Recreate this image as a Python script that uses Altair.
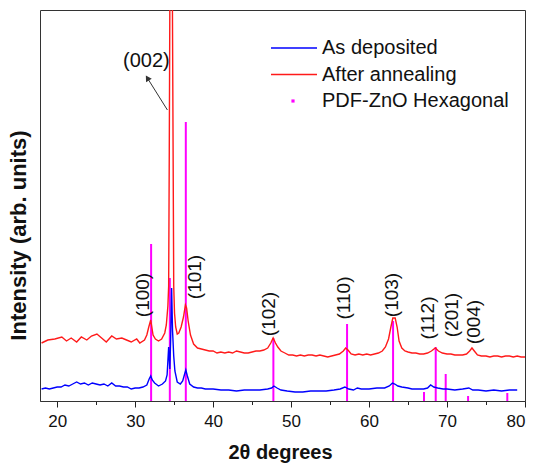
import altair as alt
import pandas as pd

# ---------------- data ----------------
red_x = [18.0, 18.8, 19.7, 20.6, 21.2, 21.8, 22.5, 23.1, 23.8, 24.4, 25.1, 25.7, 26.3, 27.0,
         27.6, 28.3, 28.9, 29.5, 30.2, 30.6, 31.2, 31.5, 31.75, 32.0, 32.3, 32.6, 33.0, 33.4,
         33.8, 34.0, 34.2, 34.3, 34.38, 34.6, 34.87, 34.95, 35.05, 35.2, 35.4, 35.6, 35.9,
         36.2, 36.45, 36.6, 36.8, 37.1, 37.5, 38.0, 38.5, 39.0, 39.5, 40.0, 40.5, 41.0, 41.5,
         42.0, 42.5, 43.0, 43.5, 44.0, 44.5, 45.0, 45.5, 46.0, 46.5, 47.0, 47.4, 47.7, 48.0,
         48.3, 48.7, 49.2, 49.7, 50.2, 50.7, 51.2, 51.7, 52.2, 52.7, 53.2, 53.7, 54.2, 54.7,
         55.2, 55.7, 56.2, 56.7, 57.0, 57.3, 57.7, 58.2, 58.7, 59.2, 59.7, 60.2, 60.7, 61.2,
         61.7, 62.1, 62.5, 62.8, 63.05, 63.35, 63.6, 63.85, 64.2, 64.6, 65.0, 65.5, 66.0,
         66.5, 67.0, 67.5, 68.0, 68.5, 68.9, 69.4, 70.0, 70.5, 71.0, 71.5, 72.0, 72.5, 72.9,
         73.2, 73.5, 73.9, 74.4, 75.0, 75.5, 76.0, 76.5, 77.0, 77.5, 78.0, 78.5, 79.0, 79.5, 80.0]
red_y = [58, 61, 62, 64, 60, 63, 59, 64, 61, 65, 67, 63, 59, 65,
         62, 63, 61, 59, 62, 58, 61, 66, 74, 81, 66, 62, 60, 62,
         68, 76, 95, 115, 250, 700, 250, 115, 88, 74, 67, 68, 74,
         84, 96, 93, 80, 66, 57, 53, 52, 51, 50, 50, 48, 49, 48,
         49, 48, 50, 49, 48, 48, 49, 50, 50, 51, 53, 58, 63, 58,
         54, 50, 48, 46, 46, 45, 46, 45, 46, 46, 45, 46, 45, 44,
         45, 46, 47, 50, 53, 51, 47, 46, 47, 46, 47, 46, 47, 48,
         50, 54, 62, 74, 83, 83, 74, 60, 53, 50, 49, 48, 48,
         47, 47, 48, 50, 53, 50, 48, 47, 47, 46, 46, 46, 47, 50,
         53, 50, 46, 45, 45, 44, 45, 45, 44, 45, 45, 44, 45, 44, 44]

blue_x = [18.0, 18.5, 19.0, 19.5, 20.0, 20.5, 21.0, 21.5, 22.0, 22.5, 23.0, 23.5, 24.0, 24.5,
          25.0, 25.5, 26.0, 26.5, 27.0, 27.5, 28.0, 28.5, 29.0, 29.5, 30.0, 30.5, 31.0, 31.5,
          31.8, 32.0, 32.2, 32.5, 33.0, 33.5, 33.9, 34.1, 34.3, 34.45, 34.55, 34.68, 34.8,
          34.95, 35.1, 35.4, 35.8, 36.1, 36.35, 36.5, 36.7, 37.0, 37.5, 38.0, 38.5, 39.0, 39.5,
          40.0, 41.0, 42.0, 43.0, 44.0, 45.0, 46.0, 47.0, 47.5, 47.8, 48.2, 48.7, 49.5, 50.5,
          51.5, 52.5, 53.5, 54.5, 55.5, 56.3, 56.9, 57.4, 58.0, 58.5, 59.0, 60.0, 61.0, 62.0,
          62.6, 63.0, 63.3, 63.7, 64.2, 65.0, 65.5, 66.0, 67.0, 67.5, 67.9, 68.3, 68.8, 69.5,
          70.0, 71.0, 72.0, 72.8, 73.3, 74.0, 75.0, 76.0, 77.0, 78.0, 79.0]
blue_y = [12, 13, 12, 13, 14, 14, 16, 15, 17, 19, 17, 18, 16, 18,
          17, 16, 17, 15, 18, 15, 15, 14, 14, 12, 13, 13, 14, 16,
          22, 25, 21, 18, 15, 17, 20, 26, 54, 32, 60, 113, 70,
          45, 30, 19, 17, 20, 27, 31, 25, 17, 14, 13, 13, 12, 12,
          12, 11, 11, 10, 11, 11, 11, 12, 13, 15, 13, 11, 10, 9,
          9, 10, 10, 10, 11, 12, 14, 12, 11, 13, 12, 12, 13, 13,
          15, 18, 17, 15, 14, 13, 12, 12, 12, 13, 16, 14, 13, 12,
          12, 11, 12, 13, 11, 11, 10, 11, 10, 11, 11]

pdf_x = [32.05, 34.45, 36.5, 47.73, 57.18, 63.08, 67.05, 68.55, 69.83, 72.7, 77.73]
pdf_h = [157, 123, 279, 63, 77, 80, 9, 54, 27, 5, 8]

peak_labels = ["(100)", "(101)", "(102)", "(110)", "(103)", "(112)", "(201)", "(004)"]
peak_label_x = [31.05, 37.65, 47.2, 56.85, 62.9, 67.5, 70.6, 73.5]
peak_label_y = [106, 124, 87, 103, 106, 83, 86, 79]

main_label = ["(002)"]
main_label_x = [31.44]
main_label_y = [340]
arrow_x = [34.14]
arrow_y = [291]
arrow_x2 = [31.57]
arrow_y2 = [323]

series_names = ["As deposited", "After annealing", "PDF-ZnO Hexagonal"]
series_colors = ["#0000ff", "#ff1a1a", "#ff00ff"]
legend_rank = [0, 1, 2]

x_ticks = [20, 25, 30, 35, 40, 45, 50, 55, 60, 65, 70, 75, 80]

# ---------------- tables ----------------
red_df = pd.DataFrame({"t": red_x, "i": red_y, "s": series_names[1]})
blue_df = pd.DataFrame({"t": blue_x, "i": blue_y, "s": series_names[0]})
pdf_df = pd.DataFrame({"t": pdf_x, "i": pdf_h, "z": [0] * len(pdf_x), "s": series_names[2]})
lab_df = pd.DataFrame({"t": peak_label_x, "i": peak_label_y, "lab": peak_labels})
main_df = pd.DataFrame({"t": main_label_x, "i": main_label_y, "lab": main_label})
arrow_df = pd.DataFrame({"t": arrow_x, "i": arrow_y, "t2": arrow_x2, "i2": arrow_y2})
legend_df = pd.DataFrame({"s": series_names, "k": legend_rank})

FONT = "Liberation Sans"

xscale = alt.Scale(domain=[17.8, 80], nice=False, zero=False)
yscale = alt.Scale(domain=[0, 391], nice=False, zero=False)
cscale = alt.Scale(domain=series_names, range=series_colors)

x_axis = alt.Axis(
    values=x_ticks,
    labelExpr="datum.value % 10 == 0 ? datum.label : ''",
    tickSize=alt.condition("datum.value % 10 == 0", alt.value(6), alt.value(3.5)),
    tickColor="#222", domainColor="#333", tickWidth=1,
    labelFont=FONT, labelFontSize=17, labelColor="#111", labelPadding=6,
    grid=False,
    title="2θ  degrees", titleFont=FONT, titleFontSize=20, titleFontWeight="bold",
    titleColor="#111", titleX=240, titleY=51, titleBaseline="middle", titleAlign="center",
)
y_axis = alt.Axis(
    labels=False, ticks=False, domain=False, grid=False,
    title="Intensity (arb. units)", titleFont=FONT, titleFontSize=22, titleFontWeight="bold",
    titleColor="#111", titleAngle=270, titleX=-22, titleY=225,
    titleAlign="center", titleBaseline="middle",
)

X = alt.X("t:Q", scale=xscale, axis=x_axis)
Xn = alt.X("t:Q", scale=xscale)
Y = alt.Y("i:Q", scale=yscale, axis=y_axis)
Yn = alt.Y("i:Q", scale=yscale)
C = alt.Color("s:N", scale=cscale, legend=None)

pdf_layer = alt.Chart(pdf_df).mark_rule(strokeWidth=2, clip=True).encode(
    x=X, y=Y, y2="z:Q", color=C)
blue_layer = alt.Chart(blue_df).mark_line(strokeWidth=1.4, clip=True).encode(
    x=Xn, y=Yn, color=C, order="t:Q")
red_layer = alt.Chart(red_df).mark_line(strokeWidth=1.4, clip=True).encode(
    x=Xn, y=Yn, color=C, order="t:Q")
labels_layer = alt.Chart(lab_df).mark_text(
    angle=270, font=FONT, fontSize=19, color="#111", align="center", baseline="middle"
).encode(x=Xn, y=Yn, text="lab:N")
main_label_layer = alt.Chart(main_df).mark_text(
    font=FONT, fontSize=20, color="#111", align="center", baseline="middle"
).encode(x=Xn, y=Yn, text="lab:N")
arrow_line = alt.Chart(arrow_df).mark_rule(strokeWidth=1, color="#333").encode(
    x=Xn, y=Yn, x2="t2:Q", y2="i2:Q")
arrow_head = alt.Chart(arrow_df).mark_point(
    shape="triangle-up", filled=True, color="#333", size=45, angle=328, opacity=1
).encode(x=alt.X("t2:Q", scale=xscale), y=alt.Y("i2:Q", scale=yscale))

main = alt.layer(pdf_layer, blue_layer, red_layer, labels_layer, main_label_layer,
                 arrow_line, arrow_head)

# legend drawn as marks, rows placed through a linear scale (pixel range)
LY = alt.Y("k:Q", scale=alt.Scale(domain=[0, 2], range=[38, 91], nice=False, zero=False),
           axis=None)
leg_lines = alt.Chart(legend_df).transform_filter(
    alt.datum.k < 2
).mark_rule(strokeWidth=1.6).encode(
    x=alt.value(231), x2=alt.value(277), y=LY, color=C)
leg_dot = alt.Chart(legend_df).transform_filter(
    alt.datum.k == 2
).mark_square(size=10, opacity=1).encode(x=alt.value(253), y=LY, color=C)
leg_text = alt.Chart(legend_df).mark_text(
    font=FONT, fontSize=20, color="#111", align="left", baseline="middle"
).encode(x=alt.value(282), y=LY, text="s:N")
legend = alt.layer(leg_lines, leg_dot, leg_text)

chart = alt.layer(main, legend).resolve_scale(y="independent").properties(
    width=485, height=391,
    autosize=alt.AutoSizeParams(type="none"),
    padding={"left": 40, "top": 10, "right": 10, "bottom": 63},
    background="white",
).configure_view(stroke="#333", strokeWidth=1)

chart.save("out.html", embed_options={"renderer": "svg", "actions": False})
